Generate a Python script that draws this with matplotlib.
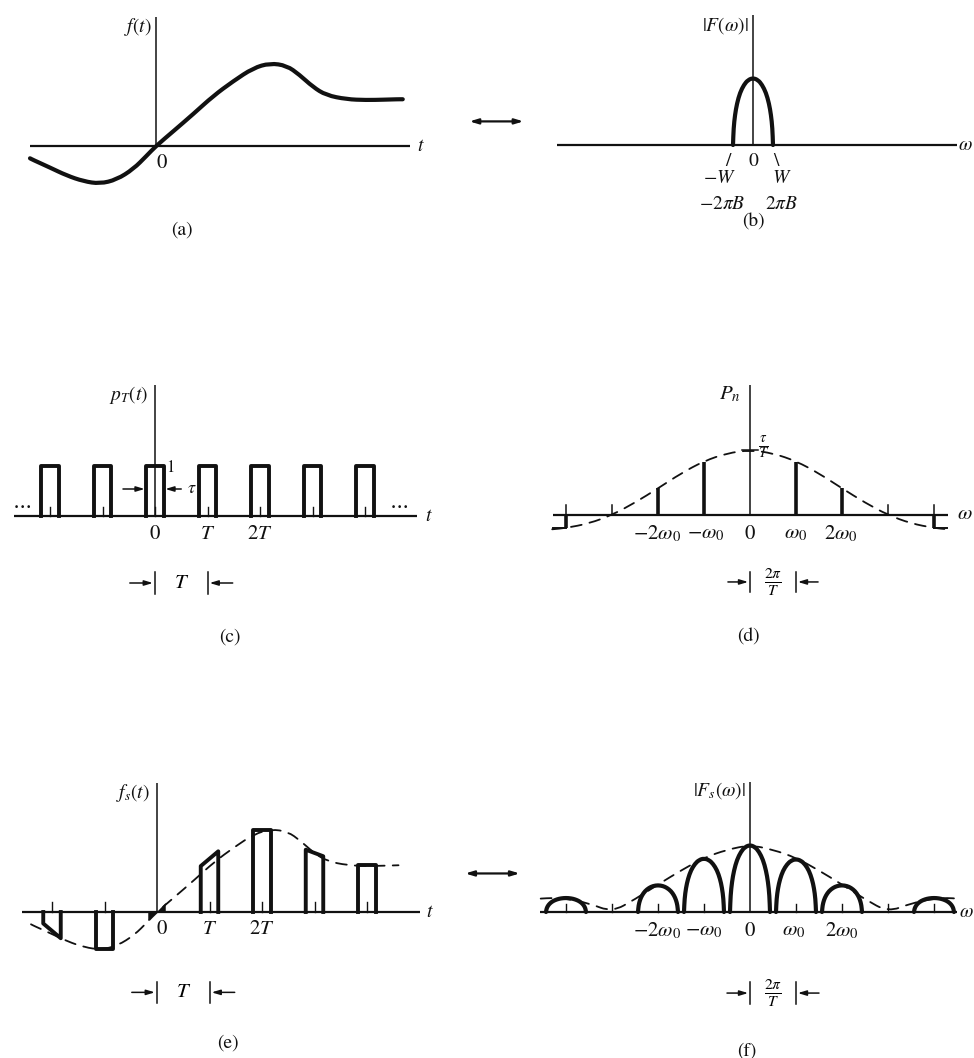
import numpy as np
import matplotlib
matplotlib.use("Agg")
import matplotlib.pyplot as plt
from matplotlib.path import Path
from matplotlib.patches import PathPatch

plt.rcParams["mathtext.fontset"] = "stix"
plt.rcParams["font.family"] = "STIXGeneral"

INK = "#111111"
W_PX, H_PX = 974, 1058

# f(t): t in units of the sampling period T, amplitude relative to the peak
f_t = [-2.40, -2.34, -2.03, -1.70, -1.38, -1.07, -0.75, -0.43, -0.18, 0.0, 0.33, 0.71,
       1.09, 1.47, 1.85, 2.17, 2.49, 2.73, 2.99, 3.24, 3.63, 4.00, 4.35, 4.60, 4.70]
f_v = [-0.15, -0.17, -0.26, -0.36, -0.43, -0.46, -0.41, -0.28, -0.12, 0.0, 0.18, 0.39,
       0.61, 0.79, 0.95, 1.01, 0.98, 0.87, 0.72, 0.62, 0.57, 0.56, 0.565, 0.57, 0.57]

# |F(w)|: one band-limited lobe, w in units of W
lobe_w = [-1.0, -0.97, -0.9, -0.8, -0.65, -0.45, -0.25, 0.0, 0.25, 0.45, 0.65, 0.8, 0.9, 0.97, 1.0]
lobe_v = [0.0, 0.25, 0.45, 0.62, 0.78, 0.90, 0.97, 1.0, 0.97, 0.90, 0.78, 0.62, 0.45, 0.25, 0.0]

# pulse train p_T(t)
pulse_n = [-2, -1, 0, 1, 2, 3, 4]
tau = 1 / 3

# Fourier coefficients P_n (relative to tau/T) and their envelope
pn_n = [-4, -3, -2, -1, 0, 1, 2, 3, 4]
pn_v = [-0.20, 0.0, 0.42, 0.82, 1.0, 0.82, 0.42, 0.0, -0.20]
env_w = [-4.3, -4.0, -3.5, -3.0, -2.5, -2.0, -1.5, -1.0, -0.5, 0.0,
         0.5, 1.0, 1.5, 2.0, 2.5, 3.0, 3.5, 4.0, 4.3]
env_v = [-0.22, -0.20, -0.13, 0.0, 0.19, 0.41, 0.64, 0.83, 0.95, 1.0,
         0.95, 0.83, 0.64, 0.41, 0.19, 0.0, -0.13, -0.20, -0.22]

# sampled signal f_s(t): pulse top at left and right edge of each sample
samp_left = [-0.14, -0.45, -0.11, 0.56, 1.00, 0.76, 0.57]
samp_right = [-0.32, -0.45, 0.11, 0.74, 1.00, 0.68, 0.57]

# |F_s(w)|: shifted copies of |F(w)| weighted by |P_n|
fs_n = [-4, -2, -1, 0, 1, 2, 4]
fs_peak = [0.21, 0.40, 0.80, 1.0, 0.79, 0.40, 0.21]
band_w = 0.435  # W measured in units of w0
fs_env_w = [-4.55, -4.3, -4.0, -3.5, -3.0, -2.5, -2.0, -1.5, -1.0, -0.5, 0.0,
            0.5, 1.0, 1.5, 2.0, 2.5, 3.0, 3.5, 4.0, 4.3, 4.5]
fs_env_v = [0.20, 0.21, 0.20, 0.13, 0.0, 0.19, 0.41, 0.62, 0.81, 0.93, 1.0,
            0.93, 0.81, 0.62, 0.41, 0.19, 0.0, 0.13, 0.20, 0.21, 0.20]

fig = plt.figure(figsize=(W_PX / 100, H_PX / 100), dpi=100)


def panel(ox, oy, ux, uy):
    # full-figure axes, origin at pixel (ox, oy), ux / uy pixels per data unit
    ax = fig.add_axes([0, 0, 1, 1])
    ax.set_xlim(-ox / ux, (W_PX - ox) / ux)
    ax.set_ylim(-(H_PX - oy) / uy, oy / uy)
    ax.axis("off")
    ax.patch.set_visible(False)
    return ax


def smooth(ax, x, y, **kw):
    # quadratic bezier through the midpoints, points act as control points
    pts = np.column_stack([x, y])
    mids = (pts[:-1] + pts[1:]) / 2
    verts = [pts[0], mids[0]]
    codes = [Path.MOVETO, Path.LINETO]
    for i in range(1, len(pts) - 1):
        verts += [pts[i], mids[i]]
        codes += [Path.CURVE3, Path.CURVE3]
    verts.append(pts[-1])
    codes.append(Path.LINETO)
    ax.add_patch(PathPatch(Path(verts, codes), fill=False, edgecolor=INK,
                           capstyle="round", joinstyle="round", **kw))


def axis_lines(ax, x0, x1, ytop):
    ax.plot([x0, x1], [0, 0], color=INK, lw=1.6, solid_capstyle="butt")
    ax.plot([0, 0], [0, ytop], color=INK, lw=1.1, solid_capstyle="butt")


def arrow(ax, tail, head):
    ax.annotate("", xy=head, xytext=tail,
                arrowprops=dict(arrowstyle="-|>,head_length=0.5,head_width=0.15",
                                color=INK, lw=1.1, shrinkA=0, shrinkB=0))


def bracket(ax, a, b, y, half, length, label, size=15):
    for x in (a, b):
        ax.plot([x, x], [y - half, y + half], color=INK, lw=1.1)
    arrow(ax, (a - length, y), (a - 0.04, y))
    arrow(ax, (b + length, y), (b + 0.04, y))
    ax.text((a + b) / 2, y, label, ha="center", va="center", fontsize=size)


def txt(ax, x, y, s, size=15, ha="center", va="center"):
    ax.text(x, y, s, ha=ha, va=va, fontsize=size, color=INK)


def double_arrow(ax, x0, x1, y):
    ax.annotate("", xy=(x0, y), xytext=(x1, y),
                arrowprops=dict(arrowstyle="<|-|>,head_length=0.5,head_width=0.15",
                                color=INK, lw=1.6, shrinkA=0, shrinkB=0))


# (a) f(t)
ax = panel(156, 146, 52.5, 82)
axis_lines(ax, -2.4, 4.84, 1.57)
smooth(ax, f_t, f_v, lw=3.0)
txt(ax, -0.08, 1.45, "$f(t)$", 14, ha="right")
txt(ax, 0.1, -0.21, "0")
txt(ax, 4.97, 0.0, "$t$", 14, ha="left")
txt(ax, 0.5, -1.02, "(a)", 14)
double_arrow(ax, 5.97, 7.0, 0.3)

# (b) |F(w)|
ax = panel(753, 145, 20, 67)
axis_lines(ax, -9.8, 10.2, 1.94)
smooth(ax, lobe_w, lobe_v, lw=3.0)
txt(ax, -0.2, 1.79, r"$|F(\omega)|$", 14, ha="right")
txt(ax, 10.25, 0.0, r"$\omega$", 14, ha="left")
txt(ax, -1.25, -0.25, "/", 14)
txt(ax, 1.15, -0.25, "\\", 14)
txt(ax, 0.0, -0.25, "0", 14)
txt(ax, -1.65, -0.5, "$-W$", 14)
txt(ax, 1.45, -0.5, "$W$", 14)
txt(ax, -1.55, -0.88, r"$-2\pi B$", 14)
txt(ax, 1.45, -0.88, r"$2\pi B$", 14)
txt(ax, 0.0, -1.15, "(b)", 14)

# (c) pulse train
ax = panel(155, 516, 52.5, 50)
axis_lines(ax, -2.69, 4.99, 2.62)
for n in pulse_n:
    ax.plot([n - tau / 2, n - tau / 2, n + tau / 2, n + tau / 2], [0, 1, 1, 0],
            color=INK, lw=2.8, solid_joinstyle="round")
    ax.plot([n, n], [0, 0.18], color=INK, lw=1.0)
txt(ax, -0.13, 2.42, "$p_T(t)$", 14, ha="right")
txt(ax, 0.3, 0.96, "1", 12)
arrow(ax, (-0.61, 0.54), (-tau / 2 - 0.03, 0.54))
arrow(ax, (0.5, 0.54), (tau / 2 + 0.03, 0.54))
txt(ax, 0.6, 0.54, r"$\tau$", 13, ha="left")
txt(ax, -2.55, 0.22, r"$\cdots$", 15)
txt(ax, 4.63, 0.22, r"$\cdots$", 15)
txt(ax, 5.15, 0.0, "$t$", 14, ha="left")
txt(ax, 0.0, -0.36, "0")
txt(ax, 1.0, -0.36, "$T$")
txt(ax, 2.0, -0.36, "$2T$")
bracket(ax, 0, 1, -1.34, 0.22, 0.48, "$T$")
txt(ax, 1.43, -2.42, "(c)", 14)

# (d) P_n
ax = panel(750, 515, 46, 65)
axis_lines(ax, -4.28, 4.3, 2.0)
smooth(ax, env_w, env_v, lw=1.3, linestyle=(0, (6, 4.5)))
for n, v in zip(pn_n, pn_v):
    if n == 0:
        ax.plot([-0.18, 0.18], [v, v], color=INK, lw=1.1)
        continue
    ax.plot([n, n], [0, v], color=INK, lw=2.6, solid_capstyle="butt")
    if abs(n) >= 3:
        ax.plot([n, n], [0, 0.15], color=INK, lw=1.1)
    if abs(n) == 4:
        ax.plot([n, n + 0.28 * np.sign(n)], [v, v], color=INK, lw=1.4)
txt(ax, -0.43, 1.85, "$P_n$", 15)
txt(ax, 0.18, 1.04, r"$\frac{\tau}{T}$", 15, ha="left")
txt(ax, 4.5, 0.02, r"$\omega$", 15, ha="left")
txt(ax, 0.0, -0.29, "0")
txt(ax, -2.03, -0.29, r"$-2\omega_0$")
txt(ax, -0.95, -0.29, r"$-\omega_0$")
txt(ax, 1.0, -0.29, r"$\omega_0$")
txt(ax, 1.97, -0.29, r"$2\omega_0$")
bracket(ax, 0, 1, -1.03, 0.16, 0.48, r"$\frac{2\pi}{T}$", 16)
txt(ax, -0.04, -1.88, "(d)", 14)

# (e) sampled signal
ax = panel(157, 912, 52.5, 82)
axis_lines(ax, -2.57, 5.0, 1.57)
smooth(ax, f_t[:-1], f_v[:-1], lw=1.3, linestyle=(0, (6, 4.5)))
for n, yl, yr in zip(pulse_n, samp_left, samp_right):
    xs = [n - tau / 2, n - tau / 2, n + tau / 2, n + tau / 2]
    if n == 0:
        ax.fill(xs, [0, yl, yr, 0], color=INK, lw=0)
        continue
    ax.plot(xs, [0, yl, yr, 0], color=INK, lw=2.8, solid_joinstyle="round")
    ax.plot([n, n], [0, 0.12], color=INK, lw=1.0)
txt(ax, -0.13, 1.45, "$f_s(t)$", 14, ha="right")
txt(ax, 5.12, 0.0, "$t$", 14, ha="left")
txt(ax, 0.08, -0.21, "0")
txt(ax, 1.0, -0.21, "$T$")
txt(ax, 2.0, -0.21, "$2T$")
bracket(ax, 0, 1, -0.98, 0.13, 0.48, "$T$")
txt(ax, 1.35, -1.6, "(e)", 14)
double_arrow(ax, 5.87, 6.91, 0.47)

# (f) |F_s(w)|
ax = panel(750, 912, 46, 67)
axis_lines(ax, -4.57, 4.5, 1.94)
smooth(ax, fs_env_w, fs_env_v, lw=1.3, linestyle=(0, (6, 4.5)))
for n, h in zip(fs_n, fs_peak):
    smooth(ax, n + band_w * np.array(lobe_w), h * np.array(lobe_v), lw=3.0)
for n in [-4, -3, -2, -1, 1, 2, 3, 4]:
    ax.plot([n, n], [0, 0.12], color=INK, lw=1.0)
txt(ax, -0.08, 1.82, r"$|F_s(\omega)|$", 14, ha="right")
txt(ax, 4.55, 0.0, r"$\omega$", 14, ha="left")
txt(ax, 0.0, -0.28, "0")
txt(ax, -2.03, -0.28, r"$-2\omega_0$")
txt(ax, -1.0, -0.28, r"$-\omega_0$")
txt(ax, 0.95, -0.28, r"$\omega_0$")
txt(ax, 2.0, -0.28, r"$2\omega_0$")
bracket(ax, 0, 1, -1.21, 0.16, 0.5, r"$\frac{2\pi}{T}$", 16)
txt(ax, -0.07, -2.07, "(f)", 14)

fig.savefig("out.png", dpi=100, facecolor="white")
